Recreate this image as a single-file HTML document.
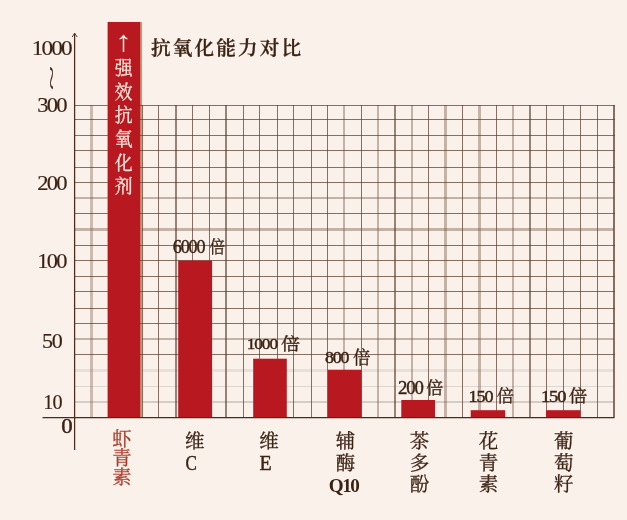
<!DOCTYPE html>
<html lang="zh-CN"><head><meta charset="utf-8"><title>抗氧化能力对比</title>
<style>
html,body{margin:0;padding:0;background:#faf1eb;}
body{width:627px;height:520px;overflow:hidden;}
svg{display:block;}
text{font-family:"Liberation Serif", "Noto Serif CJK SC", serif;stroke:none;}
text.a{stroke:#3b2314;stroke-width:0.16px;}
text.b{stroke:#3b2314;stroke-width:0.22px;}
text.x{stroke:#3b2314;stroke-width:0.3px;}
text.t{stroke:#3b2314;stroke-width:0.3px;}
text.d{stroke:#3b2314;stroke-width:0.45px;}
text.c{stroke:#f9e9de;stroke-width:0.3px;}
text.r{stroke:#ad3f2b;stroke-width:0.3px;}
</style></head><body>
<svg width="627" height="520" viewBox="0 0 627 520">
<rect x="0" y="0" width="627" height="520" fill="#faf1eb"/>
<g fill="none">
<line x1="91.5" y1="105.0" x2="91.5" y2="417.5" stroke="#7a5a47" stroke-opacity="0.36" stroke-width="3.0"/>
<line x1="344.0" y1="105.0" x2="344.0" y2="417.5" stroke="#7a5a47" stroke-opacity="0.42" stroke-width="2.0"/>
<line x1="378.0" y1="105.0" x2="378.0" y2="417.5" stroke="#7a5a47" stroke-opacity="0.42" stroke-width="2.0"/>
<line x1="412.0" y1="105.0" x2="412.0" y2="417.5" stroke="#7a5a47" stroke-opacity="0.42" stroke-width="2.0"/>
<line x1="445.5" y1="105.0" x2="445.5" y2="417.5" stroke="#7a5a47" stroke-opacity="0.42" stroke-width="3.0"/>
<line x1="479.5" y1="105.0" x2="479.5" y2="417.5" stroke="#7a5a47" stroke-opacity="0.42" stroke-width="3.0"/>
<line x1="513.0" y1="105.0" x2="513.0" y2="417.5" stroke="#7a5a47" stroke-opacity="0.42" stroke-width="2.0"/>
<line x1="74.5" y1="198.0" x2="614.0" y2="198.0" stroke="#7a5a47" stroke-opacity="0.42" stroke-width="2.0"/>
<line x1="74.5" y1="229.5" x2="614.0" y2="229.5" stroke="#7a5a47" stroke-opacity="0.42" stroke-width="3.0"/>
<line x1="74.5" y1="339.0" x2="614.0" y2="339.0" stroke="#7a5a47" stroke-opacity="0.42" stroke-width="2.0"/>
<line x1="74.5" y1="370.5" x2="614.0" y2="370.5" stroke="#45403a" stroke-opacity="0.10" stroke-width="3.0"/>
<line x1="74.5" y1="386.5" x2="614.0" y2="386.5" stroke="#45403a" stroke-opacity="0.15" stroke-width="1.0"/>
<line x1="74.5" y1="402.0" x2="614.0" y2="402.0" stroke="#4a4038" stroke-opacity="0.21" stroke-width="2.0"/>
<rect x="140" y="22" width="2" height="395.5" fill="#da916f"/>
<g stroke="#583826" stroke-opacity="0.70">
<line x1="142.5" y1="105.0" x2="142.5" y2="417.5" stroke-width="1.0"/>
<line x1="158.5" y1="105.0" x2="158.5" y2="417.5" stroke-width="1.0"/>
<line x1="176.0" y1="105.0" x2="176.0" y2="417.5" stroke-width="1.7"/>
<line x1="192.5" y1="105.0" x2="192.5" y2="417.5" stroke-width="1.0"/>
<line x1="209.5" y1="105.0" x2="209.5" y2="417.5" stroke-width="1.0"/>
<line x1="226.0" y1="105.0" x2="226.0" y2="417.5" stroke-width="1.7"/>
<line x1="243.5" y1="105.0" x2="243.5" y2="417.5" stroke-width="1.0"/>
<line x1="259.5" y1="105.0" x2="259.5" y2="417.5" stroke-width="1.0"/>
<line x1="277.5" y1="105.0" x2="277.5" y2="417.5" stroke-width="1.0"/>
<line x1="293.5" y1="105.0" x2="293.5" y2="417.5" stroke-width="1.0"/>
<line x1="311.5" y1="105.0" x2="311.5" y2="417.5" stroke-width="1.0"/>
<line x1="327.5" y1="105.0" x2="327.5" y2="417.5" stroke-width="1.0"/>
<line x1="361.5" y1="105.0" x2="361.5" y2="417.5" stroke-width="1.0"/>
<line x1="395.0" y1="105.0" x2="395.0" y2="417.5" stroke-width="1.7"/>
<line x1="428.5" y1="105.0" x2="428.5" y2="417.5" stroke-width="1.0"/>
<line x1="462.5" y1="105.0" x2="462.5" y2="417.5" stroke-width="1.0"/>
<line x1="496.5" y1="105.0" x2="496.5" y2="417.5" stroke-width="1.0"/>
<line x1="530.0" y1="105.0" x2="530.0" y2="417.5" stroke-width="1.7"/>
<line x1="546.5" y1="105.0" x2="546.5" y2="417.5" stroke-width="1.0"/>
<line x1="563.5" y1="105.0" x2="563.5" y2="417.5" stroke-width="1.0"/>
<line x1="580.5" y1="105.0" x2="580.5" y2="417.5" stroke-width="1.0"/>
<line x1="597.5" y1="105.0" x2="597.5" y2="417.5" stroke-width="1.0"/>
<line x1="614.0" y1="105.0" x2="614.0" y2="417.5" stroke-width="2.0"/>
<line x1="74.5" y1="105.5" x2="615.0" y2="105.5" stroke-width="1.0"/>
<line x1="74.5" y1="119.5" x2="615.0" y2="119.5" stroke-width="1.0"/>
<line x1="74.5" y1="135.5" x2="615.0" y2="135.5" stroke-width="1.0"/>
<line x1="74.5" y1="150.5" x2="615.0" y2="150.5" stroke-width="1.0"/>
<line x1="74.5" y1="167.5" x2="615.0" y2="167.5" stroke-width="1.0"/>
<line x1="74.5" y1="182.5" x2="615.0" y2="182.5" stroke-width="1.0"/>
<line x1="74.5" y1="213.5" x2="615.0" y2="213.5" stroke-width="1.0"/>
<line x1="74.5" y1="245.5" x2="615.0" y2="245.5" stroke-width="1.0"/>
<line x1="74.5" y1="260.5" x2="615.0" y2="260.5" stroke-width="1.0"/>
<line x1="74.5" y1="276.5" x2="615.0" y2="276.5" stroke-width="1.0"/>
<line x1="74.5" y1="291.5" x2="615.0" y2="291.5" stroke-width="1.0"/>
<line x1="74.5" y1="308.5" x2="615.0" y2="308.5" stroke-width="1.0"/>
<line x1="74.5" y1="323.5" x2="615.0" y2="323.5" stroke-width="1.0"/>
<line x1="74.5" y1="354.5" x2="615.0" y2="354.5" stroke-width="1.0"/>
</g>
</g>
<rect x="107.6" y="22.0" width="32.6" height="395.5" fill="#b8181f"/>
<rect x="178.2" y="260.6" width="33.9" height="156.9" fill="#b8181f"/>
<rect x="253.2" y="358.7" width="33.6" height="58.8" fill="#b8181f"/>
<rect x="327.8" y="369.8" width="33.8" height="47.7" fill="#b8181f"/>
<rect x="401.3" y="400.0" width="33.7" height="17.5" fill="#b8181f"/>
<rect x="470.7" y="410.2" width="34.5" height="7.3" fill="#b8181f"/>
<rect x="546.1" y="410.2" width="34.4" height="7.3" fill="#b8181f"/>
<g stroke="#4b2b19" stroke-width="1.25" fill="none">
<line x1="74.6" y1="33.5" x2="74.6" y2="450"/>
<line x1="42.5" y1="417.5" x2="614.5" y2="417.5"/>
<polyline points="72.2,37 74.6,33.2 77.2,37" stroke-width="0.9"/>
</g>
<text transform="translate(31.66 54.94) scale(1.129 1)" font-size="20.59px" fill="#3b2314" class="a" style="letter-spacing:-0.08em">1000</text>
<text transform="translate(37.21 111.64) scale(1.103 1)" font-size="20.59px" fill="#3b2314" class="a" style="letter-spacing:-0.08em">300</text>
<text transform="translate(37.13 189.64) scale(1.099 1)" font-size="20.59px" fill="#3b2314" class="a" style="letter-spacing:-0.08em">200</text>
<text transform="translate(37.33 267.94) scale(1.092 1)" font-size="20.59px" fill="#3b2314" class="a" style="letter-spacing:-0.08em">100</text>
<text transform="translate(42.02 347.94) scale(1.075 1)" font-size="20.59px" fill="#3b2314" class="a" style="letter-spacing:-0.06em">50</text>
<text transform="translate(43.13 409.14) scale(0.983 1)" font-size="20.59px" fill="#3b2314" class="a" style="letter-spacing:-0.04em">10</text>
<text transform="translate(61.14 432.85) scale(1.134 1)" font-size="20.15px" fill="#3b2314" class="d">0</text>
<text transform="translate(46.2 65.9) rotate(90) scale(1.4 0.45)" font-size="32px" fill="#3b2314" class="t">~</text>
<text x="151.0" y="55.0" font-size="19.6px" font-weight="600" letter-spacing="2.15px" fill="#3b2314" class="t">抗氧化能力对比</text>
<text transform="translate(115.12 51.33) scale(1.163 1)" font-size="29.15px" fill="#f9e9de">↑</text>
<g fill="#f9e9de" stroke="#f9e9de" font-size="18.8px" text-anchor="middle">
<text transform="translate(123.6 0) scale(0.95 1)" x="0 0 0 0 0 0" y="75.3 98.9 122.5 146.1 169.7 193.3" class="c">强效抗氧化剂</text>
</g>
<text transform="translate(172.69 253.01) scale(0.947 1)" font-size="19.11px" fill="#3b2314" class="d" style="letter-spacing:-0.06em">6000</text>
<text transform="translate(209.53 253.13) scale(0.914 1)" font-size="17.08px" fill="#3b2314" class="t">倍</text>
<text transform="translate(246.64 348.85) scale(1.155 1)" font-size="14.96px" fill="#3b2314" class="d" style="letter-spacing:-0.06em">1000</text>
<text transform="translate(281.02 349.87) scale(1.156 1)" font-size="16.65px" fill="#3b2314" class="t">倍</text>
<text transform="translate(324.89 362.83) scale(1.021 1)" font-size="17.48px" fill="#3b2314" class="d" style="letter-spacing:-0.06em">800</text>
<text transform="translate(353.07 364.33) scale(0.954 1)" font-size="18.38px" fill="#3b2314" class="t">倍</text>
<text transform="translate(398.06 393.91) scale(0.997 1)" font-size="18.81px" fill="#3b2314" class="d" style="letter-spacing:-0.06em">200</text>
<text transform="translate(426.29 394.07) scale(1.028 1)" font-size="16.65px" fill="#3b2314" class="t">倍</text>
<text transform="translate(468.47 401.63) scale(1.066 1)" font-size="17.04px" fill="#3b2314" class="d" style="letter-spacing:-0.06em">150</text>
<text transform="translate(496.68 402.12) scale(1.002 1)" font-size="17.30px" fill="#3b2314" class="t">倍</text>
<text transform="translate(540.93 401.73) scale(1.071 1)" font-size="17.33px" fill="#3b2314" class="d" style="letter-spacing:-0.06em">150</text>
<text transform="translate(568.74 401.78) scale(1.132 1)" font-size="16.54px" fill="#3b2314" class="t">倍</text>
<text transform="translate(122.0 0) scale(1.00 1)" x="0 0 0" y="446.2 465.3 484.4" font-size="19.3px" text-anchor="middle" fill="#ad3f2b" class="r">虾青素</text>
<text transform="translate(194.8 0) scale(1.00 1)" x="0" y="448.2" font-size="19.5px" text-anchor="middle" fill="#3b2314" class="x">维</text>
<text transform="translate(185.42 469.79) scale(0.820 1)" font-size="20.75px" fill="#3b2314" class="d">C</text>
<text transform="translate(269.1 0) scale(1.00 1)" x="0" y="448.2" font-size="19.5px" text-anchor="middle" fill="#3b2314" class="x">维</text>
<text transform="translate(259.60 469.70) scale(0.916 1)" font-size="21.83px" fill="#3b2314" class="d">E</text>
<text transform="translate(345.6 0) scale(1.00 1)" x="0 0" y="448.2 469.5" font-size="19.5px" text-anchor="middle" fill="#3b2314" class="x">辅酶</text>
<text transform="translate(328.84 492.22) scale(0.963 1)" font-size="19.88px" fill="#3b2314" style="font-weight:bold;letter-spacing:-0.08em">Q10</text>
<text transform="translate(419.5 0) scale(1.00 1)" x="0 0 0" y="448.2 469.5 491.3" font-size="19.5px" text-anchor="middle" fill="#3b2314" class="x">茶多酚</text>
<text transform="translate(488.5 0) scale(1.00 1)" x="0 0 0" y="448.2 469.5 491.3" font-size="19.5px" text-anchor="middle" fill="#3b2314" class="x">花青素</text>
<text transform="translate(563.7 0) scale(1.00 1)" x="0 0 0" y="448.3 469.6 491.4" font-size="19.5px" text-anchor="middle" fill="#3b2314" class="x">葡萄籽</text>
</svg>
</body></html>
